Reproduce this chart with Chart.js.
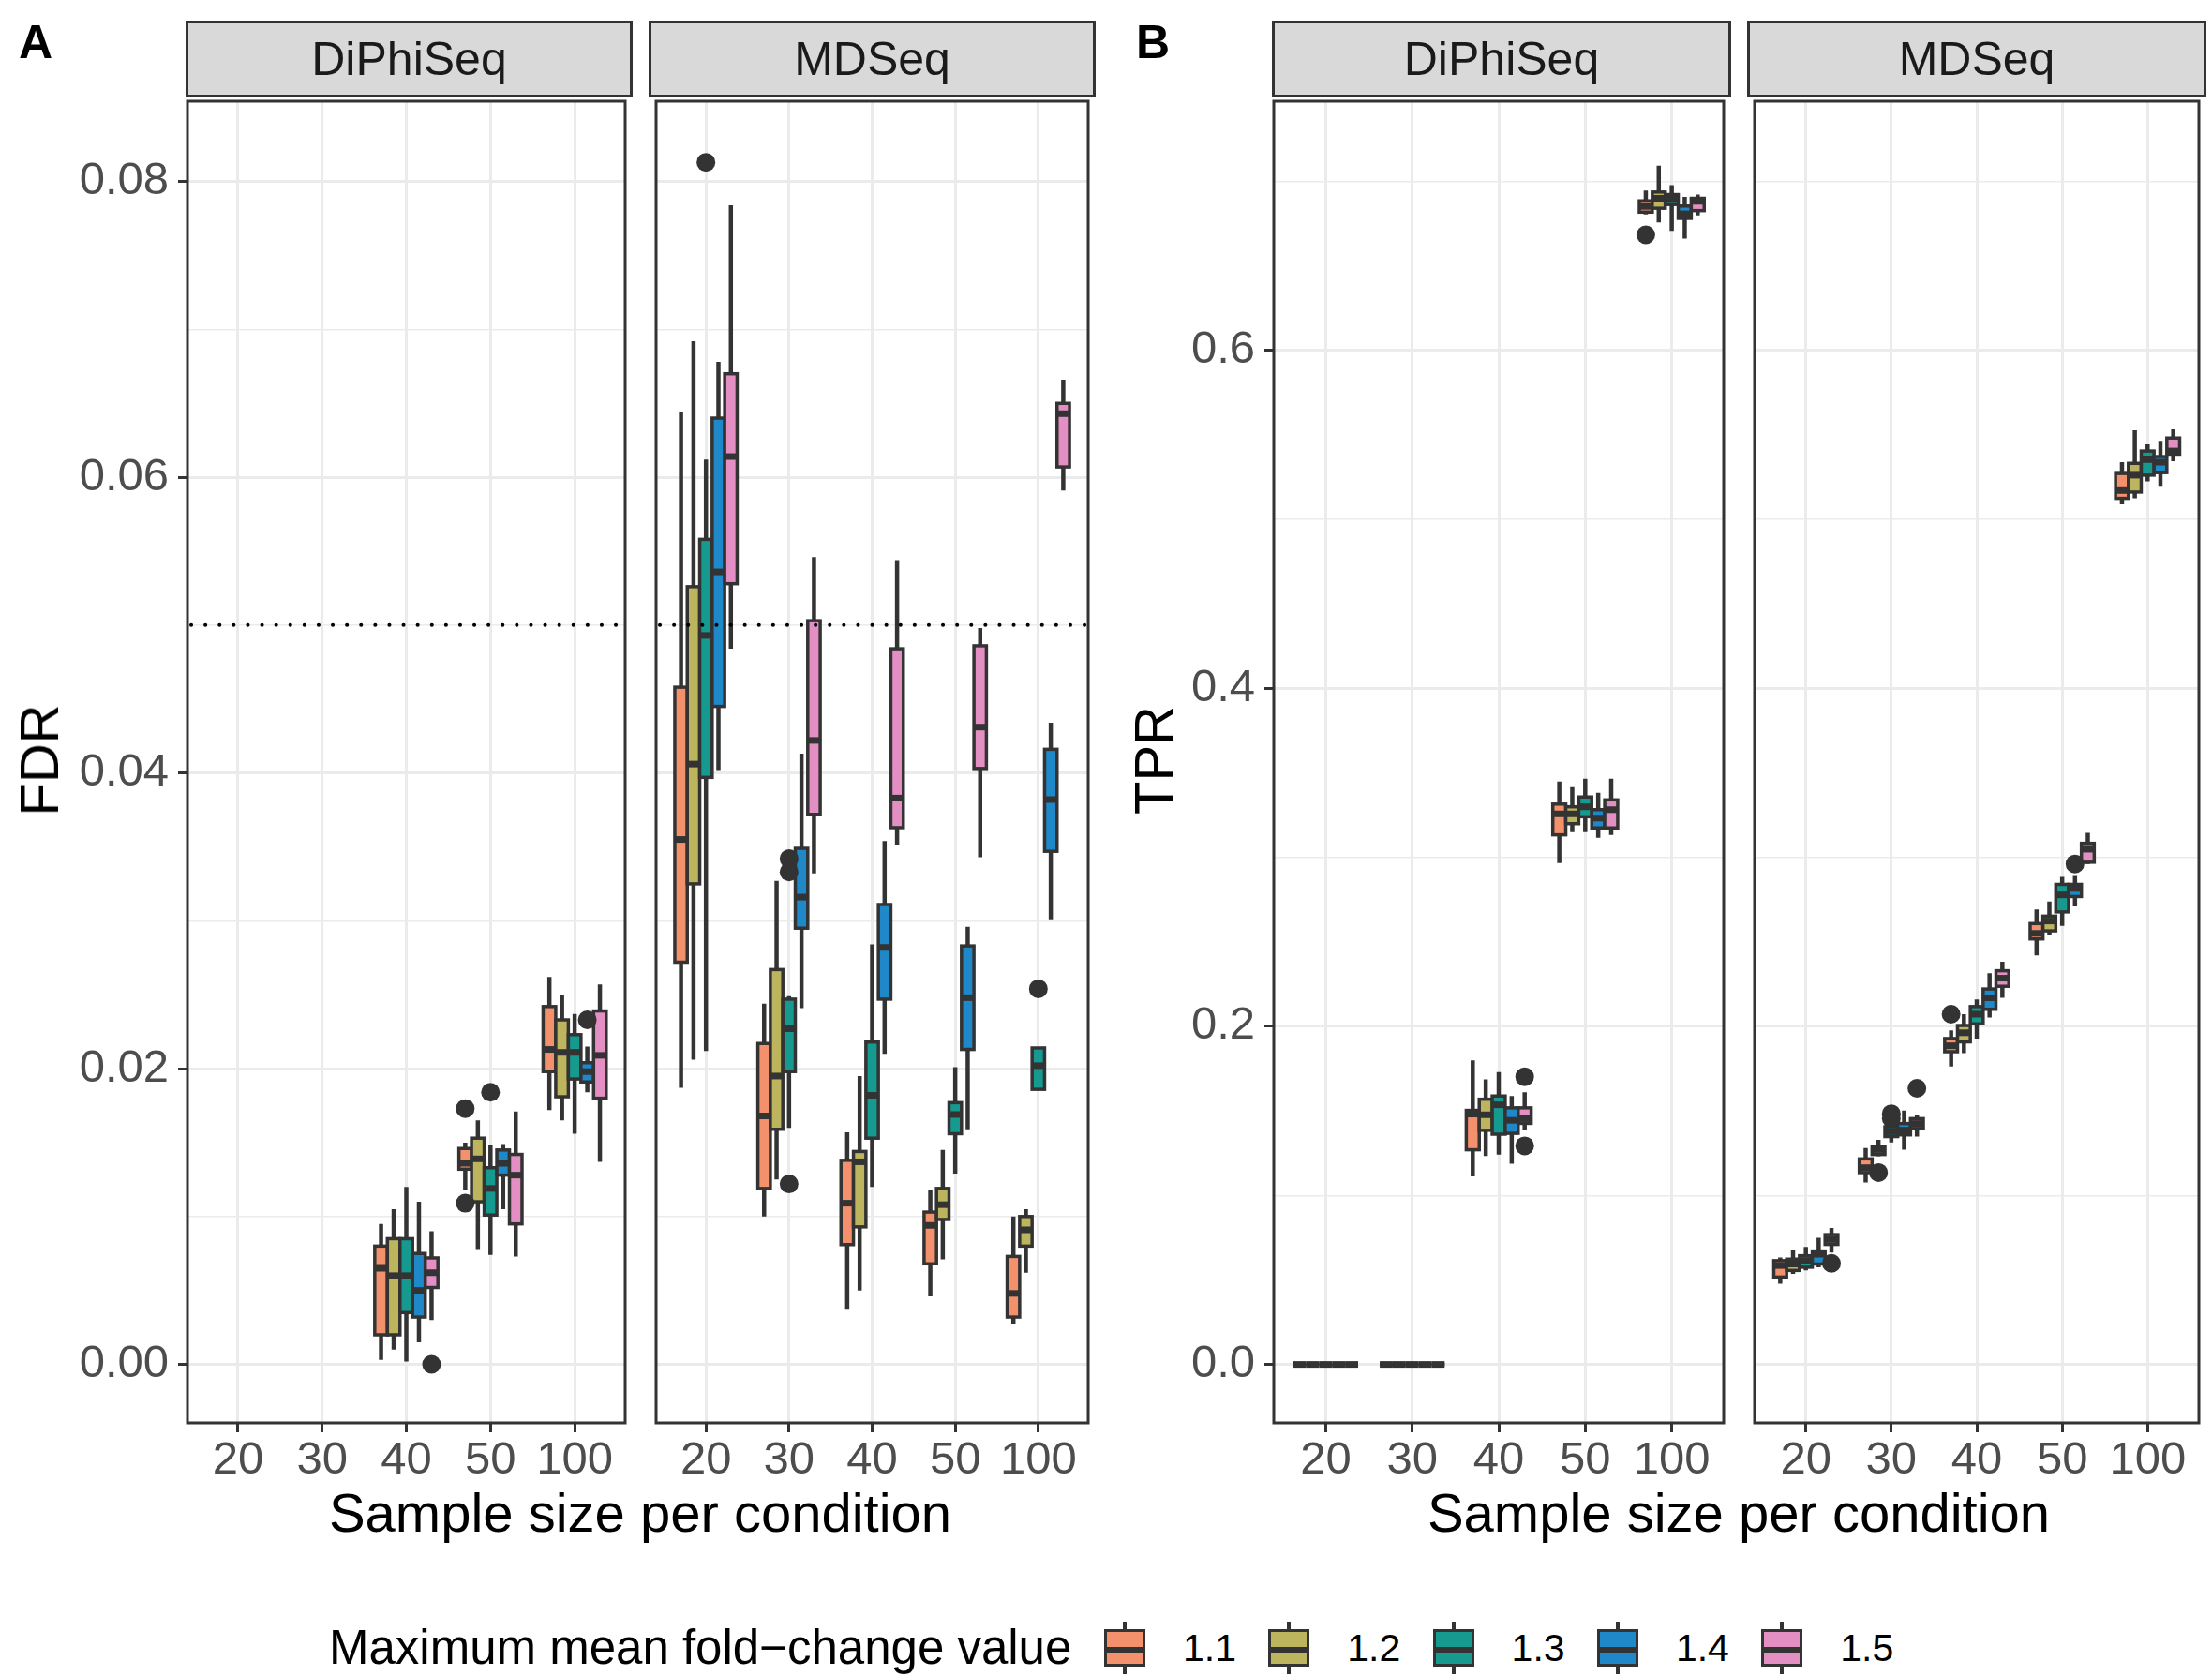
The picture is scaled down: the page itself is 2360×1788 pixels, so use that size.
<!DOCTYPE html>
<html>
<head>
<meta charset="utf-8">
<title>FDR and TPR by sample size</title>
<script src="https://cdn.jsdelivr.net/npm/chart.js@4.4.1/dist/chart.umd.min.js"></script>
<style>
  html, body { margin: 0; padding: 0; background: #fff; }
  body { width: 2360px; height: 1788px; position: relative; overflow: hidden; font-family: 'Liberation Sans', Arial, sans-serif; }
  canvas { position: absolute; }
  .strip { position: absolute; top: 22px; height: 82px; box-sizing: border-box; background: #D9D9D9; border: 3px solid #333; color: #1A1A1A; font-size: 50px; display: flex; align-items: center; justify-content: center; }
  .txt { position: absolute; line-height: 1; white-space: nowrap; color: #000; }
  .letter { font-size: 50px; font-weight: bold; }
  .xtitle { font-size: 58px; transform: translateX(-50%); }
  .ytitle { font-size: 58px; transform: translate(-50%, -50%) rotate(-90deg); }
  .key { position: absolute; width: 44px; height: 56px; }
  .key .whisk { position: absolute; left: 20px; width: 4px; top: 0; height: 56px; background: #333; }
  .key .box { position: absolute; left: 0; top: 8px; width: 44px; height: 40px; box-sizing: border-box; border: 3px solid #333; }
  .key .med { position: absolute; left: 0; top: 16px; width: 38px; height: 6px; background: #333; }
</style>
</head>
<body>
<div class="txt letter" style="left:20px;top:20px">A</div>
<div class="txt letter" style="left:1212px;top:20px">B</div>

<canvas id="fdr-diphiseq"></canvas>
<canvas id="fdr-mdseq"></canvas>
<canvas id="tpr-diphiseq"></canvas>
<canvas id="tpr-mdseq"></canvas>

<div class="strip" style="left:198px;width:477px">DiPhiSeq</div>
<div class="strip" style="left:692px;width:477px">MDSeq</div>
<div class="strip" style="left:1357px;width:490px">DiPhiSeq</div>
<div class="strip" style="left:1864px;width:490px">MDSeq</div>

<div class="txt ytitle" style="left:42px;top:811px">FDR</div>
<div class="txt ytitle" style="left:1231px;top:811px">TPR</div>
<div class="txt xtitle" style="left:683px;top:1585px">Sample size per condition</div>
<div class="txt xtitle" style="left:1855px;top:1585px">Sample size per condition</div>

<div id="legend"></div>

<script>
// categories
const sampleSizes = ['20', '30', '40', '50', '100'];
const foldChanges = ['1.1', '1.2', '1.3', '1.4', '1.5'];
const fcColors = ['#F4916D', '#BDB45E', '#16998F', '#1E88C8', '#E38FC4'];

// y ticks (minor ticks have empty labels)
const fdrTicks = [0, 0.01, 0.02, 0.03, 0.04, 0.05, 0.06, 0.07, 0.08];
const fdrTickLabels = ['0.00', '', '0.02', '', '0.04', '', '0.06', '', '0.08'];
const tprTicks = [0, 0.1, 0.2, 0.3, 0.4, 0.5, 0.6, 0.7];
const tprTickLabels = ['0.0', '', '0.2', '', '0.4', '', '0.6', ''];
const fdrTarget = 0.05;

// box stats per fold-change (rows) and sample size (cols): [lower whisker, Q1, median, Q3, upper whisker]
const fdrDiPhiSeq = [
  [null, null, [0.0003, 0.0020, 0.0065, 0.0080, 0.0095], [0.0118, 0.0132, 0.0136, 0.0146, 0.0150], [0.0172, 0.0198, 0.0213, 0.0242, 0.0262]],
  [null, null, [0.0010, 0.0020, 0.0060, 0.0085, 0.0105], [0.0078, 0.0110, 0.0139, 0.0153, 0.0165], [0.0165, 0.0181, 0.0211, 0.0233, 0.0250]],
  [null, null, [0.0002, 0.0035, 0.0060, 0.0085, 0.0120], [0.0074, 0.0101, 0.0119, 0.0133, 0.0148], [0.0156, 0.0193, 0.0211, 0.0223, 0.0237]],
  [null, null, [0.0015, 0.0032, 0.0050, 0.0075, 0.0110], [0.0105, 0.0128, 0.0136, 0.0145, 0.0149], [0.0184, 0.0191, 0.0198, 0.0204, 0.0215]],
  [null, null, [0.0030, 0.0052, 0.0062, 0.0072, 0.0090], [0.0073, 0.0095, 0.0128, 0.0142, 0.0171], [0.0137, 0.0180, 0.0209, 0.0239, 0.0257]]
];
// outliers: [fold-change index, sample size index, value]
const fdrDiPhiSeqOutliers = [[0, 3, 0.0173], [0, 3, 0.0109], [2, 3, 0.0184], [3, 4, 0.0233], [4, 2, 0.0000]];

const fdrMDSeq = [
  [[0.0187, 0.0272, 0.0355, 0.0458, 0.0644], [0.0100, 0.0119, 0.0168, 0.0217, 0.0244], [0.0037, 0.0081, 0.0109, 0.0138, 0.0157], [0.0046, 0.0068, 0.0094, 0.0103, 0.0118], [0.0027, 0.0032, 0.0048, 0.0073, 0.0100]],
  [[0.0206, 0.0325, 0.0406, 0.0526, 0.0692], [0.0125, 0.0159, 0.0195, 0.0267, 0.0327], [0.0050, 0.0093, 0.0137, 0.0144, 0.0195], [0.0071, 0.0098, 0.0108, 0.0119, 0.0145], [0.0062, 0.0080, 0.0091, 0.0100, 0.0105]],
  [[0.0212, 0.0397, 0.0493, 0.0558, 0.0612], [0.0160, 0.0198, 0.0227, 0.0247, 0.0249], [0.0120, 0.0153, 0.0182, 0.0218, 0.0284], [0.0129, 0.0156, 0.0169, 0.0177, 0.0201], [0.0186, 0.0186, 0.0202, 0.0214, 0.0214]],
  [[0.0402, 0.0445, 0.0536, 0.0640, 0.0678], [0.0241, 0.0295, 0.0316, 0.0349, 0.0413], [0.0210, 0.0247, 0.0282, 0.0311, 0.0354], [0.0159, 0.0213, 0.0248, 0.0283, 0.0296], [0.0301, 0.0347, 0.0382, 0.0416, 0.0434]],
  [[0.0484, 0.0528, 0.0614, 0.0670, 0.0784], [0.0332, 0.0372, 0.0422, 0.0503, 0.0546], [0.0351, 0.0363, 0.0383, 0.0484, 0.0544], [0.0343, 0.0403, 0.0431, 0.0486, 0.0498], [0.0591, 0.0607, 0.0643, 0.0650, 0.0666]]
];
const fdrMDSeqOutliers = [[2, 0, 0.0813], [2, 1, 0.0342], [2, 1, 0.0333], [2, 1, 0.0122], [2, 4, 0.0254]];

const tprDiPhiSeq = [
  [[0, 0, 0, 0, 0], [0, 0, 0, 0, 0], [0.1113, 0.1270, 0.1481, 0.1503, 0.1798], [0.2966, 0.3133, 0.3257, 0.3315, 0.3448], [0.6804, 0.6817, 0.6851, 0.6884, 0.6945]],
  [[0, 0, 0, 0, 0], [0, 0, 0, 0, 0], [0.1233, 0.1385, 0.1477, 0.1569, 0.1687], [0.3149, 0.3199, 0.3257, 0.3299, 0.3415], [0.6756, 0.6840, 0.6899, 0.6936, 0.7092]],
  [[0, 0, 0, 0, 0], [0, 0, 0, 0, 0], [0.1242, 0.1362, 0.1536, 0.1588, 0.1730], [0.3149, 0.3240, 0.3299, 0.3357, 0.3465], [0.6706, 0.6862, 0.6899, 0.6921, 0.6976]],
  [[0, 0, 0, 0, 0], [0, 0, 0, 0, 0], [0.1187, 0.1367, 0.1444, 0.1518, 0.1588], [0.3116, 0.3174, 0.3232, 0.3282, 0.3382], [0.6661, 0.6780, 0.6807, 0.6853, 0.6908]],
  [[0, 0, 0, 0, 0], [0, 0, 0, 0, 0], [0.1389, 0.1426, 0.1454, 0.1518, 0.1610], [0.3133, 0.3174, 0.3282, 0.3340, 0.3465], [0.6798, 0.6826, 0.6881, 0.6899, 0.6921]]
];
const tprDiPhiSeqOutliers = [[0, 4, 0.6683], [4, 2, 0.1702], [4, 2, 0.1293]];

const tprMDSeq = [
  [[0.0478, 0.0517, 0.0585, 0.0614, 0.0633], [0.1077, 0.1135, 0.1164, 0.1216, 0.1280], [0.1763, 0.1850, 0.1885, 0.1928, 0.1976], [0.2420, 0.2517, 0.2550, 0.2608, 0.2691], [0.5088, 0.5124, 0.5170, 0.5271, 0.5338]],
  [[0.0536, 0.0556, 0.0594, 0.0623, 0.0675], [0.1232, 0.1242, 0.1271, 0.1290, 0.1329], [0.1841, 0.1908, 0.1962, 0.2005, 0.2072], [0.2542, 0.2565, 0.2623, 0.2652, 0.2739], [0.5124, 0.5161, 0.5261, 0.5331, 0.5527]],
  [[0.0556, 0.0575, 0.0614, 0.0643, 0.0695], [0.1313, 0.1348, 0.1377, 0.1406, 0.1435], [0.1928, 0.2015, 0.2072, 0.2117, 0.2159], [0.2594, 0.2677, 0.2778, 0.2840, 0.2884], [0.5225, 0.5261, 0.5353, 0.5404, 0.5444]],
  [[0.0575, 0.0594, 0.0652, 0.0671, 0.0749], [0.1271, 0.1358, 0.1386, 0.1425, 0.1502], [0.2053, 0.2101, 0.2169, 0.2221, 0.2314], [0.2710, 0.2768, 0.2816, 0.2840, 0.2890], [0.5192, 0.5276, 0.5338, 0.5371, 0.5459]],
  [[0.0662, 0.0710, 0.0739, 0.0768, 0.0807], [0.1348, 0.1396, 0.1425, 0.1454, 0.1473], [0.2169, 0.2237, 0.2285, 0.2329, 0.2382], [0.2961, 0.2971, 0.3048, 0.3083, 0.3145], [0.5344, 0.5380, 0.5404, 0.5481, 0.5532]]
];
const tprMDSeqOutliers = [[4, 0, 0.0598], [1, 1, 0.1135], [2, 1, 0.1483], [2, 1, 0.1455], [4, 1, 0.1634], [0, 2, 0.2072], [3, 3, 0.2961]];

// layout (page pixels)
const PLOT_TOP = 102;
const PLOT_H = 1416;
const X_AXIS_H = 90;
const PAD = 4;
const DODGE = 0.15;   // 0.75 dodge width / 5 groups
const INK = '#333333';

Chart.defaults.font.family = "'Liberation Sans', Arial, sans-serif";

// draws boxes + whiskers through the chart's scales, threshold line and panel border
const boxplotPlugin = {
  id: 'boxplot',
  beforeDatasetsDraw(chart, args, opts) {
    const { ctx, scales: { x, y } } = chart;
    ctx.save();
    opts.stats.forEach((row, g) => {
      row.forEach((s, i) => {
        if (!s) return;
        const [lo, q1, med, q3, hi] = s;
        const xc = i + (g - 2) * DODGE;
        const px = x.getPixelForValue(xc);
        const left = x.getPixelForValue(xc - DODGE / 2);
        const right = x.getPixelForValue(xc + DODGE / 2);
        const yq1 = y.getPixelForValue(q1), yq3 = y.getPixelForValue(q3);

        ctx.strokeStyle = INK;
        ctx.lineWidth = 4.5;
        ctx.beginPath();
        ctx.moveTo(px, y.getPixelForValue(hi)); ctx.lineTo(px, yq3);
        ctx.moveTo(px, yq1); ctx.lineTo(px, y.getPixelForValue(lo));
        ctx.stroke();

        ctx.fillStyle = fcColors[g];
        ctx.fillRect(left, yq3, right - left, yq1 - yq3);
        ctx.lineWidth = 3.5;
        ctx.strokeRect(left, yq3, right - left, yq1 - yq3);

        const ym = y.getPixelForValue(med);
        ctx.lineWidth = 7;
        ctx.beginPath();
        ctx.moveTo(left, ym); ctx.lineTo(right, ym);
        ctx.stroke();
      });
    });
    ctx.restore();
  },
  afterDatasetsDraw(chart, args, opts) {
    if (opts.threshold == null) return;
    const { ctx, chartArea, scales: { y } } = chart;
    const ty = y.getPixelForValue(opts.threshold);
    ctx.save();
    ctx.strokeStyle = '#000';
    ctx.lineWidth = 4;
    ctx.lineCap = 'round';
    ctx.setLineDash([0.1, 15]);
    ctx.beginPath();
    ctx.moveTo(chartArea.left + 4, ty);
    ctx.lineTo(chartArea.right, ty);
    ctx.stroke();
    ctx.restore();
  },
  afterDraw(chart) {
    const { ctx, chartArea: a } = chart;
    ctx.save();
    ctx.strokeStyle = INK;
    ctx.lineWidth = 3;
    ctx.strokeRect(a.left, a.top, a.right - a.left, a.bottom - a.top);
    ctx.restore();
  }
};

function facet(canvasId, plotLeft, plotW, showY, yMin, yMax, yTicks, yLabels, stats, outliers, threshold) {
  const canvas = document.getElementById(canvasId);
  const axisW = showY ? 200 : PAD;
  canvas.width = axisW + plotW + PAD;
  canvas.height = PAD + PLOT_H + X_AXIS_H;
  canvas.style.left = (plotLeft - axisW) + 'px';
  canvas.style.top = (PLOT_TOP - PAD) + 'px';

  const points = outliers.map(([g, i, v]) => ({ x: i + (g - 2) * DODGE, y: v }));

  return new Chart(canvas, {
    type: 'scatter',
    data: {
      datasets: [{
        data: points,
        pointRadius: 10,
        pointBackgroundColor: INK,
        pointBorderWidth: 0
      }]
    },
    options: {
      responsive: false,
      devicePixelRatio: 1,
      animation: false,
      events: [],
      layout: { padding: { top: PAD, right: PAD, left: 0, bottom: 0 } },
      plugins: {
        legend: { display: false },
        tooltip: { enabled: false },
        boxplot: { stats: stats, threshold: threshold }
      },
      scales: {
        x: {
          type: 'linear',
          min: -0.6,
          max: 4.6,
          afterBuildTicks: axis => { axis.ticks = sampleSizes.map((s, i) => ({ value: i })); },
          afterFit: axis => { axis.height = X_AXIS_H; axis.paddingLeft = 0; axis.paddingRight = 0; },
          border: { display: false },
          grid: { color: '#EBEBEB', lineWidth: 3, tickColor: INK, tickLength: 10, tickWidth: 3 },
          ticks: {
            autoSkip: false, maxRotation: 0, minRotation: 0, padding: 1,
            color: '#4D4D4D', font: { size: 49 },
            callback: v => sampleSizes[v] ?? ''
          }
        },
        y: {
          type: 'linear',
          min: yMin,
          max: yMax,
          afterBuildTicks: axis => { axis.ticks = yTicks.map(v => ({ value: v })); },
          afterFit: axis => { axis.width = axisW; axis.paddingTop = 0; axis.paddingBottom = 0; },
          border: { display: false },
          grid: {
            color: '#EBEBEB',
            lineWidth: c => (c.index % 2 === 0 ? 3 : 1.5),
            drawTicks: showY,
            tickLength: 10,
            tickWidth: 3,
            tickColor: c => (c.index % 2 === 0 ? INK : 'rgba(0,0,0,0)')
          },
          ticks: {
            display: showY, padding: 10,
            color: '#4D4D4D', font: { size: 49 },
            callback: (v, i) => yLabels[i]
          }
        }
      }
    },
    plugins: [boxplotPlugin]
  });
}

facet('fdr-diphiseq', 200, 473, true, -0.00396, 0.08543, fdrTicks, fdrTickLabels, fdrDiPhiSeq, fdrDiPhiSeqOutliers, fdrTarget);
facet('fdr-mdseq', 694, 473, false, -0.00396, 0.08543, fdrTicks, fdrTickLabels, fdrMDSeq, fdrMDSeqOutliers, fdrTarget);
facet('tpr-diphiseq', 1359, 486, true, -0.0346, 0.7473, tprTicks, tprTickLabels, tprDiPhiSeq, tprDiPhiSeqOutliers, null);
facet('tpr-mdseq', 1866, 486, false, -0.0346, 0.7473, tprTicks, tprTickLabels, tprMDSeq, tprMDSeqOutliers, null);

// legend
const legend = document.getElementById('legend');
legend.innerHTML = '<div class="txt" style="left:351px;top:1732px;font-size:51px">Maximum mean fold\u2212change value</div>';
foldChanges.forEach((fc, i) => {
  const keyLeft = 1178 + i * 175.3;
  legend.innerHTML +=
    `<div class="key" style="left:${keyLeft}px;top:1730px">` +
    `<div class="whisk"></div><div class="box" style="background:${fcColors[i]}"><div class="med"></div></div></div>` +
    `<div class="txt" style="left:${keyLeft + 84}px;top:1738px;font-size:41px">${fc}</div>`;
});
</script>
</body>
</html>
